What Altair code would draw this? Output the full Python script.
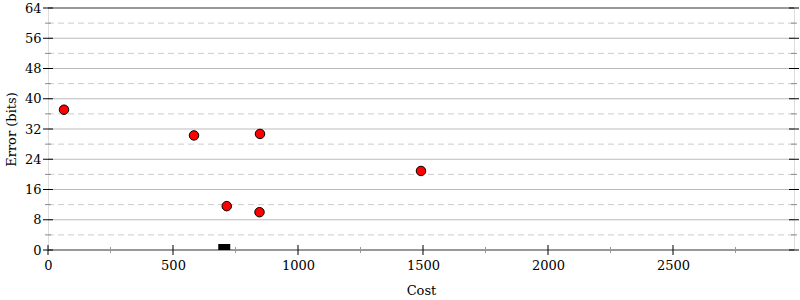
import altair as alt
import pandas as pd

# data
cost = [64, 584, 848, 715, 846, 1492]
error = [37.1, 30.3, 30.7, 11.6, 10.0, 20.9]
best_cost = [705]
best_error = [0]

y_major = [0, 8, 16, 24, 32, 40, 48, 56, 64]
y_minor = [4, 12, 20, 28, 36, 44, 52, 60]
x_major = [0, 500, 1000, 1500, 2000, 2500]
x_minor = [250, 750, 1250, 1750, 2250, 2750]
grid_major = [8, 16, 24, 40, 48, 56]
grid_highlight = [32]
border = [0, 64]

XMAX = 2984
W, H = 746, 242
FONT = "'DejaVu Serif', 'Liberation Serif', serif"

xs = alt.Scale(domain=[0, XMAX], nice=False, zero=False)
ys = alt.Scale(domain=[0, 64], nice=False)

pts = pd.DataFrame({"cost": cost, "error": error})
best = pd.DataFrame({"cost": best_cost, "error": best_error})

xaxis = alt.Axis(values=x_major, ticks=False, domain=False, grid=False,
                 format="d", labelFlush=False, labelOverlap=False,
                 labelFont=FONT, labelFontSize=13, labelColor="black",
                 labelPadding=9, title="Cost", titleFont=FONT, titleFontSize=13,
                 titleFontWeight="normal", titleColor="black", titlePadding=12)
yaxis = alt.Axis(values=y_major, ticks=False, domain=False, grid=False,
                 format="d", labelFlush=False, labelOverlap=False,
                 labelFont=FONT, labelFontSize=13, labelColor="black",
                 labelPadding=7, title="Error (bits)", titleFont=FONT,
                 titleFontSize=13, titleFontWeight="normal", titleColor="black",
                 titlePadding=6)

def XE(field):
    return alt.X(field, scale=xs, axis=xaxis)

def YE(field):
    return alt.Y(field, scale=ys, axis=yaxis)

base_pts = alt.Chart(pts).mark_point(
    filled=True, shape="circle", size=90, fill="#ff0000", stroke="black",
    strokeWidth=1, opacity=1
).encode(x=XE("cost:Q"), y=YE("error:Q"))

def hrules(vals, **kw):
    return alt.Chart(pd.DataFrame({"v": vals})).mark_rule(**kw).encode(
        y=YE("v:Q")
    )

g_major = hrules(grid_major, color="#bbbbbb", strokeWidth=1)
g_hl = hrules(grid_highlight, color="#dddddd", strokeWidth=2)
g_minor = hrules(y_minor, color="#cccccc", strokeWidth=1, strokeDash=[6, 4])
g_border = hrules(border, color="#999999", strokeWidth=2)

def yticks(vals, xpos, color, size):
    return alt.Chart(pd.DataFrame({"v": vals})).mark_tick(
        color=color, size=size, thickness=1, orient="horizontal", opacity=1
    ).encode(y=YE("v:Q"), x=alt.value(xpos))

def xticks(vals, color, size):
    return alt.Chart(pd.DataFrame({"v": vals})).mark_tick(
        color=color, size=size, thickness=1, orient="vertical", opacity=1
    ).encode(x=XE("v:Q"), y=alt.value(H))

ticks = [
    yticks(y_major, 0, "black", 10),
    yticks(y_minor, 0, "#888888", 6),
    yticks(y_major, W, "black", 10),
    yticks(y_minor, W, "#888888", 6),
    xticks(x_major, "black", 10),
    xticks(x_minor, "#999999", 6),
]

best_mark = alt.Chart(best).mark_square(
    size=144, color="black", opacity=1, clip=True
).encode(x=XE("cost:Q"), y=YE("error:Q"))

chart = alt.layer(
    g_minor, g_major, g_hl, g_border, *ticks, base_pts, best_mark
).properties(
    width=W, height=H,
    autosize=alt.AutoSizeParams(type="none"),
    padding={"left": 48, "top": 8, "right": 6, "bottom": 50},
).configure_view(
    stroke="#bbbbbb", strokeWidth=2
).configure(background="white", font=FONT)

chart.save("out.html", embed_options={"renderer": "svg", "actions": False})
